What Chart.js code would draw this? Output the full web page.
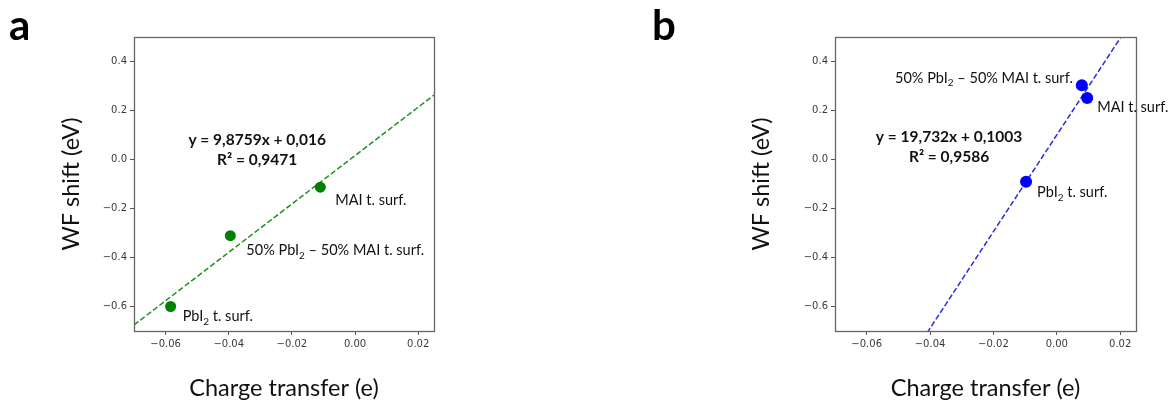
<!DOCTYPE html>
<html>
<head>
<meta charset="utf-8">
<script src="https://cdn.jsdelivr.net/npm/chart.js@4.4.0/dist/chart.umd.min.js"></script>
<style>
  html, body { margin: 0; padding: 0; background: #fff; }
  #wrap { position: relative; width: 1170px; height: 405px; }
  canvas { position: absolute; top: 0; }
</style>
</head>
<body>
<div id="wrap">
  <canvas id="chartA" width="585" height="405" style="left:0"></canvas>
  <canvas id="chartB" width="585" height="405" style="left:585px"></canvas>
</div>
<script>
// ---- DATA ----
const xTicks = [-0.06, -0.04, -0.02, 0.00, 0.02];
const yTicks = [-0.6, -0.4, -0.2, 0.0, 0.2, 0.4];
const xLimits = [-0.07, 0.025];
const yLimits = [-0.7, 0.5];
const surfaceLabels = ['PbI₂ t. surf.', '50% PbI₂ – 50% MAI t. surf.', 'MAI t. surf.'];

// panel a
const chargeA = [-0.0584, -0.0395, -0.011];
const shiftA = [-0.600, -0.311, -0.113];
const slopeA = 9.8759, interceptA = 0.016, r2A = 0.9471;

// panel b
const chargeB = [-0.0097, 0.0079, 0.0096];
const shiftB = [-0.091, 0.303, 0.251];
const slopeB = 19.732, interceptB = 0.1003, r2B = 0.9586;

// ---- HELPERS ----
function fmt(v, d) {
  const s = Math.abs(v) < 1e-9 ? (0).toFixed(d) : v.toFixed(d);
  return s.replace('-', '\u2212');
}
function comma(v) { return String(v).replace('.', ','); }

// draws text where '₂' is rendered as a lowered small 2
function drawRich(ctx, text, x, y, align, size, family) {
  const parts = text.split('₂');
  const normal = size + 'px ' + family;
  const small = Math.round(size * 0.66) + 'px ' + family;
  let w = 0;
  parts.forEach((p, i) => {
    ctx.font = normal; w += ctx.measureText(p).width;
    if (i < parts.length - 1) { ctx.font = small; w += ctx.measureText('2').width; }
  });
  let cx = align === 'right' ? x - w : x;
  ctx.textAlign = 'left';
  ctx.textBaseline = 'middle';
  parts.forEach((p, i) => {
    ctx.font = normal; ctx.fillText(p, cx, y); cx += ctx.measureText(p).width;
    if (i < parts.length - 1) {
      ctx.font = small; ctx.fillText('2', cx, y + size * 0.34); cx += ctx.measureText('2').width;
    }
  });
}

const panelDecor = {
  id: 'panelDecor',
  afterDraw(chart, args, opts) {
    const { ctx, chartArea: a, scales: { x, y } } = chart;
    ctx.save();
    // frame
    ctx.strokeStyle = '#666';
    ctx.lineWidth = 1.3;
    ctx.strokeRect(Math.round(a.left) + 0.5, Math.round(a.top) + 0.5,
      Math.round(a.right - a.left), Math.round(a.bottom - a.top));
    // panel letter
    ctx.fillStyle = '#000';
    ctx.font = 'bold 42px Lato';
    ctx.textAlign = 'left';
    ctx.textBaseline = 'alphabetic';
    ctx.fillText(opts.letter, opts.letterX, 40);
    // regression equation
    const ex = x.getPixelForValue(opts.eqAt[0]);
    const ey = y.getPixelForValue(opts.eqAt[1]);
    ctx.fillStyle = '#111';
    ctx.font = 'bold 15.5px Lato';
    ctx.textAlign = 'center';
    ctx.textBaseline = 'middle';
    ctx.fillText('y = ' + comma(opts.slope) + 'x + ' + comma(opts.intercept), ex, ey - 10);
    ctx.fillText('R² = ' + comma(opts.r2), ex, ey + 10);
    // point labels
    const pts = chart.data.datasets[0].data;
    pts.forEach((p, i) => {
      const o = opts.offsets[i];
      drawRich(ctx, surfaceLabels[i], x.getPixelForValue(p.x) + o[0],
        y.getPixelForValue(p.y) + o[1], o[2], 14.5, 'Lato');
    });
    ctx.restore();
  }
};

function makePanel(id, charge, shift, slope, intercept, r2, style) {
  const ctx = document.getElementById(id).getContext('2d');
  const points = charge.map((c, i) => ({ x: c, y: shift[i] }));
  const fitLine = xLimits.map(v => ({ x: v, y: slope * v + intercept }));

  return new Chart(ctx, {
    type: 'scatter',
    data: {
      datasets: [
        {
          data: points,
          backgroundColor: style.dot,
          borderColor: style.dot,
          pointRadius: style.radius,
          pointBorderWidth: 0,
          order: 0
        },
        {
          data: fitLine,
          showLine: true,
          borderColor: style.line,
          borderWidth: 1.5,
          borderDash: [5.5, 2.5],
          pointRadius: 0,
          order: 1
        }
      ]
    },
    options: {
      responsive: false,
      animation: false,
      layout: { padding: { top: 37, right: style.padRight, left: 0, bottom: 0 } },
      plugins: {
        legend: { display: false },
        tooltip: { enabled: false },
        panelDecor: {
          letter: style.letter, letterX: style.letterX,
          eqAt: style.eqAt, slope: slope, intercept: intercept, r2: r2,
          offsets: style.offsets
        }
      },
      scales: {
        x: {
          type: 'linear',
          position: 'bottom',
          min: xLimits[0], max: xLimits[1],
          afterBuildTicks: s => { s.ticks = xTicks.map(v => ({ value: v })); },
          afterFit: s => { s.height = 74; },
          ticks: {
            callback: v => fmt(v, 2),
            font: { family: 'DejaVu Sans', size: 10 },
            color: '#3a3a3a', padding: 3, maxRotation: 0, autoSkip: false
          },
          grid: { display: true, drawOnChartArea: false, tickLength: 4, color: '#555' },
          border: { display: false },
          title: {
            display: true, text: 'Charge transfer (e)', color: '#111',
            font: { family: 'Lato', size: 23.5 }, padding: { top: 0, bottom: 2 }
          }
        },
        y: {
          type: 'linear',
          position: 'left',
          min: yLimits[0], max: yLimits[1],
          afterBuildTicks: s => { s.ticks = yTicks.map(v => ({ value: v })); },
          afterFit: s => { s.width = style.yWidth; },
          ticks: {
            callback: v => fmt(v, 1),
            font: { family: 'DejaVu Sans', size: 10 },
            color: '#3a3a3a', padding: 3, autoSkip: false
          },
          grid: { display: true, drawOnChartArea: false, tickLength: 4, color: '#555' },
          border: { display: false },
          title: {
            display: true, text: 'WF shift (eV)', color: '#111',
            font: { family: 'Lato', size: 23.5 }, padding: { top: style.yTitlePad, bottom: 0 }
          }
        }
      }
    },
    plugins: [panelDecor]
  });
}

makePanel('chartA', chargeA, shiftA, slopeA, interceptA, r2A, {
  dot: '#008000', line: '#1f8f1f', radius: 5.5,
  padRight: 151, yWidth: 134, yTitlePad: 57,
  letter: 'a', letterX: 9, eqAt: [-0.031, 0.040],
  offsets: [[12, 10, 'left'], [16, 15, 'left'], [15, 13, 'left']]
});

makePanel('chartB', chargeB, shiftB, slopeB, interceptB, r2B, {
  dot: '#0000ff', line: '#2a2ae0', radius: 6,
  padRight: 34, yWidth: 250, yTitlePad: 162,
  letter: 'b', letterX: 67, eqAt: [-0.034, 0.050],
  offsets: [[11, 11, 'left'], [-9, -7, 'right'], [10, 9, 'left']]
});
</script>
</body>
</html>
